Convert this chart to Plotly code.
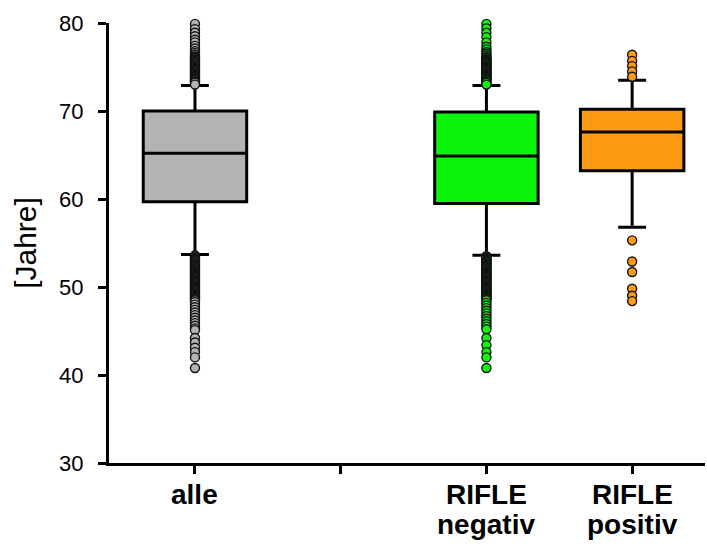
import plotly.graph_objects as go

# Category slots on the x axis (slot 1 is left empty as a spacer)
positions = [0, 2, 3]
tick_positions = [0, 1, 2, 3]
label_line1 = ["alle", "RIFLE", "RIFLE"]
label_line2 = ["", "negativ", "positiv"]

# Box statistics per group (age in years)
q1 = [59.7, 59.5, 63.2]
median = [65.2, 64.9, 67.6]
q3 = [70.0, 69.9, 70.2]
lower_whisker = [53.7, 53.6, 56.8]
upper_whisker = [72.9, 72.9, 73.5]

fill_colors = ["#b3b3b3", "#0af50a", "#ff9a14"]

# Outliers beyond the whiskers
alle_outliers = [
    79.9, 79.3, 78.9, 78.5, 78.1, 77.8, 77.4, 77.1, 76.8, 76.6, 76.4, 76.2, 76.1,
    76.0, 75.9, 75.8, 75.7, 75.6, 75.5, 75.4, 75.3, 75.2, 75.1, 75.0, 74.9, 74.8,
    74.7, 74.6, 74.5, 74.4, 74.3, 74.2, 74.1, 74.0, 73.9, 73.8, 73.7, 73.6, 73.5,
    73.4, 73.3, 73.2, 73.0,
    53.6, 53.5, 53.4, 53.3, 53.2, 53.1, 53.0, 52.9, 52.8, 52.7, 52.6, 52.5, 52.4,
    52.3, 52.2, 52.1, 52.0, 51.9, 51.8, 51.7, 51.6, 51.5, 51.4, 51.3, 51.2, 51.1,
    51.0, 50.9, 50.8, 50.7, 50.6, 50.5, 50.4, 50.3, 50.2, 50.1, 50.0, 49.9, 49.8,
    49.7, 49.6, 49.5, 49.4, 49.3, 49.2, 49.1, 49.0, 48.9, 48.8, 48.7, 48.6, 48.5,
    48.3, 48.0, 47.7, 47.4, 47.1, 46.8, 46.5, 46.2, 45.9, 45.6, 45.3, 45.1,
    44.2, 43.7, 43.1, 42.6, 42.0, 40.8,
]
negativ_outliers = [
    79.9, 79.4, 78.9, 78.4, 77.8, 77.3, 77.0, 76.7, 76.5, 76.3, 76.1, 76.0, 75.9,
    75.8, 75.7, 75.6, 75.5, 75.4, 75.3, 75.2, 75.1, 75.0, 74.9, 74.8, 74.7, 74.6,
    74.5, 74.4, 74.3, 74.2, 74.1, 74.0, 73.9, 73.8, 73.7, 73.6, 73.5, 73.4, 73.3,
    73.2, 73.0,
    53.5, 53.4, 53.3, 53.2, 53.1, 53.0, 52.9, 52.8, 52.7, 52.6, 52.5, 52.4, 52.3,
    52.2, 52.1, 52.0, 51.9, 51.8, 51.7, 51.6, 51.5, 51.4, 51.3, 51.2, 51.1, 51.0,
    50.9, 50.8, 50.7, 50.6, 50.5, 50.4, 50.3, 50.2, 50.1, 50.0, 49.9, 49.8, 49.7,
    49.6, 49.5, 49.4, 49.3, 49.2, 49.1, 49.0, 48.9, 48.8, 48.7, 48.6, 48.5,
    48.2, 47.9, 47.6, 47.3, 47.0, 46.7, 46.4, 46.1, 45.8, 45.5, 45.2,
    44.2, 43.4, 42.6, 42.0, 40.8,
]
positiv_outliers = [76.4, 75.7, 75.1, 74.5, 73.9, 55.3, 52.9, 51.7, 49.8, 49.0, 48.4]
outliers = [alle_outliers, negativ_outliers, positiv_outliers]

fig = go.Figure()

for i, pos in enumerate(positions):
    fig.add_trace(go.Box(
        x=[pos],
        q1=[q1[i]], median=[median[i]], q3=[q3[i]],
        lowerfence=[lower_whisker[i]], upperfence=[upper_whisker[i]],
        width=0.71,
        whiskerwidth=0.27,
        fillcolor=fill_colors[i],
        line=dict(color="black", width=3),
        hoverinfo="skip",
        showlegend=False,
    ))
    fig.add_trace(go.Scatter(
        x=[pos] * len(outliers[i]),
        y=outliers[i],
        mode="markers",
        marker=dict(size=9, color=fill_colors[i], line=dict(color="#111111", width=1.4)),
        cliponaxis=False,
        hoverinfo="skip",
        showlegend=False,
    ))

# Two-line bold category labels below the x axis
label_font = dict(family="Liberation Sans, Arial, sans-serif", size=28, color="black")
for i, pos in enumerate(positions):
    fig.add_annotation(
        x=pos, xref="x", y=0, yref="paper",
        text="<b>%s</b>" % label_line1[i],
        showarrow=False, xanchor="center", yanchor="top", yshift=-14,
        font=label_font,
    )
    if label_line2[i]:
        fig.add_annotation(
            x=pos, xref="x", y=0, yref="paper",
            text="<b>%s</b>" % label_line2[i],
            showarrow=False, xanchor="center", yanchor="top", yshift=-44,
            font=label_font,
        )

fig.update_layout(
    width=707, height=547,
    margin=dict(l=109, r=2, t=23, b=84),
    paper_bgcolor="white", plot_bgcolor="white",
    font=dict(family="Liberation Sans, Arial, sans-serif", color="black"),
    xaxis=dict(
        range=[-0.59, 3.5],
        tickmode="array", tickvals=tick_positions, showticklabels=False,
        ticks="outside", ticklen=8, tickwidth=3, tickcolor="black",
        showline=True, linecolor="black", linewidth=3,
        showgrid=False, zeroline=False,
    ),
    yaxis=dict(
        range=[30, 80],
        tickvals=[30, 40, 50, 60, 70, 80],
        ticks="outside", ticklen=8, tickwidth=3, tickcolor="black",
        ticklabelstandoff=10,
        showline=True, linecolor="black", linewidth=3,
        showgrid=False, zeroline=False,
        tickfont=dict(size=22),
        title=dict(text="[Jahre]", font=dict(size=30), standoff=14),
    ),
)

fig.write_html("out.html")
